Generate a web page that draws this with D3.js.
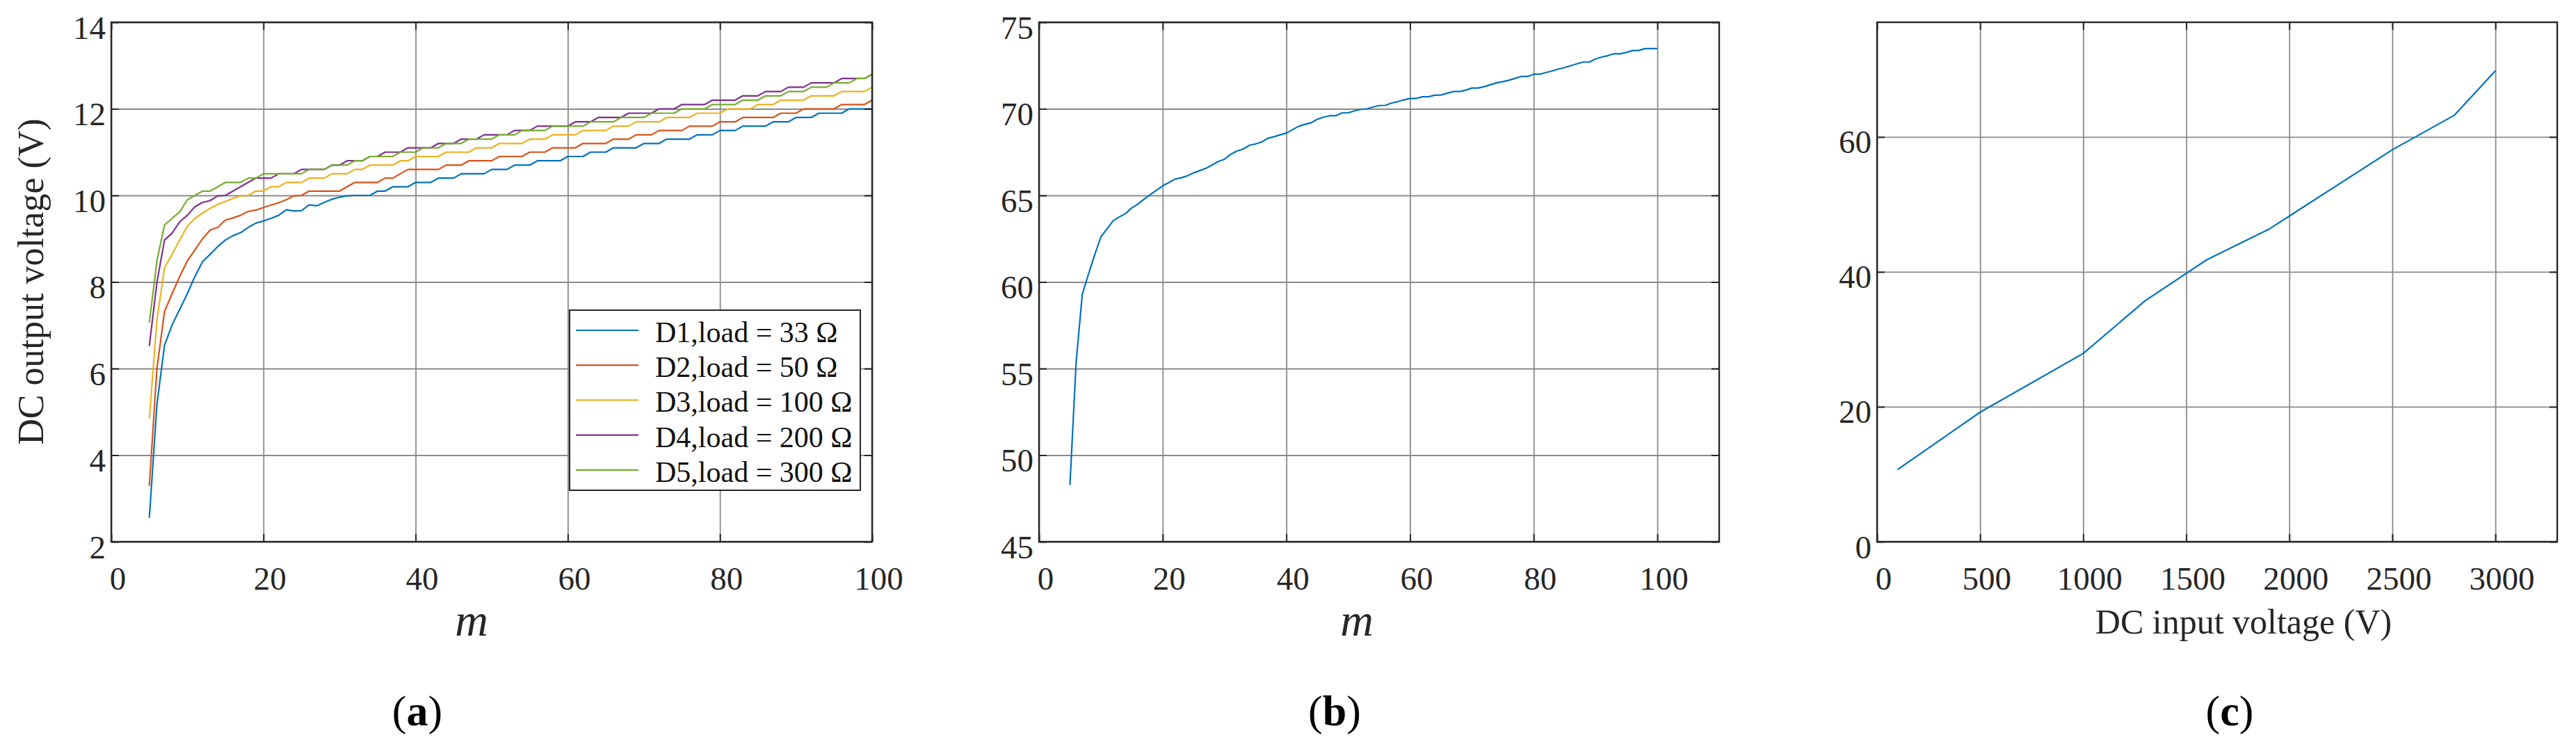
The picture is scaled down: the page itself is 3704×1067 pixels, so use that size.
<!DOCTYPE html>
<html><head><meta charset="utf-8">
<script src="https://cdn.jsdelivr.net/npm/d3@7"></script>
<style>body{margin:0;background:#fff}</style>
</head><body>
<svg id="fig" width="3704" height="1067"></svg>
<script>
// ---------------- DATA ----------------
const mValues = [5,6,7,8,9,10,11,12,13,14,15,16,17,18,19,20,21,22,23,24,25,26,27,28,29,30,31,32,33,34,35,36,37,38,39,40,41,42,43,44,45,46,47,48,49,50,51,52,53,54,55,56,57,58,59,60,61,62,63,64,65,66,67,68,69,70,71,72,73,74,75,76,77,78,79,80,81,82,83,84,85,86,87,88,89,90,91,92,93,94,95,96,97,98,99,100];

const seriesNames = ["D1,load = 33 \u03A9","D2,load = 50 \u03A9","D3,load = 100 \u03A9","D4,load = 200 \u03A9","D5,load = 300 \u03A9"];
const seriesColors = ["#0072BD","#D95319","#EDB120","#7E2F8E","#77AC30"];

const d1Values = [2.55,5.17,6.54,7.01,7.37,7.73,8.13,8.47,8.64,8.82,
8.97,9.07,9.14,9.26,9.36,9.41,9.47,9.54,9.67,9.64,
9.65,9.78,9.76,9.84,9.91,9.96,9.99,10.0,10.0,10.0,
10.1,10.1,10.2,10.2,10.2,10.3,10.3,10.3,10.4,10.4,
10.4,10.5,10.5,10.5,10.5,10.6,10.6,10.6,10.7,10.7,
10.7,10.8,10.8,10.8,10.8,10.9,10.9,10.9,11.0,11.0,
11.0,11.1,11.1,11.1,11.1,11.2,11.2,11.2,11.3,11.3,
11.3,11.3,11.4,11.4,11.4,11.5,11.5,11.5,11.6,11.6,
11.6,11.6,11.7,11.7,11.7,11.8,11.8,11.8,11.9,11.9,
11.9,11.9,12.0,12.0,12.0,12.0];

const d2Values = [3.29,6.00,7.32,7.73,8.13,8.49,8.74,9.00,9.20,9.26,
9.43,9.48,9.54,9.63,9.66,9.72,9.78,9.83,9.90,9.99,
10.0,10.1,10.1,10.1,10.1,10.1,10.2,10.3,10.3,10.3,
10.3,10.4,10.4,10.5,10.6,10.6,10.6,10.6,10.6,10.7,
10.7,10.7,10.8,10.8,10.8,10.8,10.9,10.9,10.9,10.9,
11.0,11.0,11.0,11.1,11.1,11.1,11.1,11.2,11.2,11.2,
11.2,11.3,11.3,11.3,11.4,11.4,11.4,11.5,11.5,11.5,
11.5,11.6,11.6,11.6,11.6,11.7,11.7,11.7,11.8,11.8,
11.8,11.8,11.8,11.9,11.9,11.9,12.0,12.0,12.0,12.0,
12.0,12.1,12.1,12.1,12.1,12.2];

const d3Values = [4.84,7.12,8.33,8.64,8.97,9.29,9.47,9.59,9.70,9.79,
9.86,9.93,9.99,10.0,10.1,10.1,10.2,10.2,10.3,10.3,
10.3,10.4,10.4,10.4,10.5,10.5,10.5,10.6,10.6,10.7,
10.7,10.7,10.7,10.8,10.8,10.9,10.9,10.9,10.9,11.0,
11.0,11.0,11.0,11.1,11.1,11.1,11.2,11.2,11.2,11.2,
11.3,11.3,11.3,11.4,11.4,11.4,11.4,11.5,11.5,11.5,
11.5,11.6,11.6,11.6,11.7,11.7,11.7,11.7,11.8,11.8,
11.8,11.8,11.9,11.9,11.9,11.9,12.0,12.0,12.0,12.0,
12.1,12.1,12.1,12.2,12.2,12.2,12.2,12.3,12.3,12.3,
12.3,12.4,12.4,12.4,12.4,12.5];

const d4Values = [6.52,7.99,8.97,9.13,9.39,9.54,9.74,9.84,9.88,9.99,
10.0,10.1,10.2,10.3,10.4,10.4,10.4,10.5,10.5,10.5,
10.6,10.6,10.6,10.6,10.7,10.7,10.8,10.8,10.8,10.9,
10.9,11.0,11.0,11.0,11.1,11.1,11.1,11.1,11.2,11.2,
11.2,11.3,11.3,11.3,11.4,11.4,11.4,11.4,11.5,11.5,
11.5,11.6,11.6,11.6,11.6,11.6,11.7,11.7,11.7,11.8,
11.8,11.8,11.8,11.9,11.9,11.9,11.9,12.0,12.0,12.0,
12.1,12.1,12.1,12.1,12.2,12.2,12.2,12.2,12.3,12.3,
12.3,12.4,12.4,12.4,12.5,12.5,12.5,12.6,12.6,12.6,
12.6,12.7,12.7,12.7,12.7,12.8];

const d5Values = [7.06,8.49,9.32,9.47,9.62,9.90,10.0,10.1,10.1,10.2,
10.3,10.3,10.3,10.4,10.4,10.5,10.5,10.5,10.5,10.5,
10.5,10.6,10.6,10.6,10.7,10.7,10.7,10.8,10.8,10.9,
10.9,10.9,10.9,11.0,11.0,11.0,11.1,11.1,11.1,11.2,
11.2,11.2,11.3,11.3,11.3,11.3,11.4,11.4,11.4,11.5,
11.5,11.5,11.5,11.6,11.6,11.6,11.6,11.6,11.7,11.7,
11.7,11.7,11.8,11.8,11.8,11.8,11.9,11.9,11.9,11.9,
12.0,12.0,12.0,12.0,12.1,12.1,12.1,12.1,12.2,12.2,
12.2,12.3,12.3,12.3,12.4,12.4,12.4,12.5,12.5,12.5,
12.6,12.6,12.6,12.7,12.7,12.8];

const outputBValues = [48.28,55.36,59.30,60.45,61.56,62.60,63.07,63.54,63.76,63.95,
64.28,64.50,64.78,65.05,65.30,65.55,65.74,65.94,66.02,66.13,
66.30,66.43,66.57,66.76,66.96,67.09,67.37,67.56,67.67,67.89,
67.97,68.08,68.30,68.39,68.50,68.60,68.80,68.99,69.10,69.19,
69.40,69.52,69.60,69.60,69.77,69.77,69.88,69.97,70.00,70.10,
70.19,70.20,70.33,70.41,70.52,70.60,70.60,70.70,70.70,70.79,
70.80,70.90,71.00,71.00,71.08,71.20,71.20,71.28,71.39,71.50,
71.57,71.65,71.76,71.87,71.87,72.00,72.00,72.10,72.19,72.30,
72.38,72.49,72.60,72.70,72.70,72.88,72.99,73.07,73.18,73.18,
73.26,73.37,73.37,73.48,73.48,73.48];

const inputVoltageC = [100,500,1000,1300,1600,1900,2500,2800,3000];
const outputCValues = [10.7,19.2,27.9,35.7,41.8,46.3,58.1,63.2,69.8];

const ticksAX = [0,20,40,60,80,100];
const ticksAY = [2,4,6,8,10,12,14];
const ticksBX = [0,20,40,60,80,100];
const ticksBY = [45,50,55,60,65,70,75];
const ticksCX = [0,500,1000,1500,2000,2500,3000];
const ticksCY = [0,20,40,60];

// ---------------- DRAWING ----------------
const FONT = "'Liberation Serif','Times New Roman',serif";
const TXT = "#262626";
const svg = d3.select("#fig");
svg.append("rect").attr("width",3704).attr("height",1067).attr("fill","#fff");
const fmt = d3.format("d");

function panel(o){
  const g = svg.append("g");
  const x = d3.scaleLinear().domain(o.xDomain).range([o.x0,o.x1]);
  const y = d3.scaleLinear().domain(o.yDomain).range([o.y1,o.y0]);
  const H = o.y1-o.y0, W = o.x1-o.x0;
  // grid
  const gx = g.append("g").attr("transform",`translate(0,${o.y1})`)
    .call(d3.axisBottom(x).tickValues(o.xTicks).tickSize(-H).tickFormat(""));
  const gy = g.append("g").attr("transform",`translate(${o.x0},0)`)
    .call(d3.axisLeft(y).tickValues(o.yTicks).tickSize(-W).tickFormat(""));
  [gx,gy].forEach(s=>{s.select(".domain").remove();
    s.selectAll("line").attr("stroke","#8a8a8a").attr("stroke-width",1.8);});
  // data lines
  o.series.forEach(s=>{
    const line = d3.line().x((d,i)=>x(s.xs[i])).y(d=>y(d));
    g.append("path").datum(s.ys).attr("d",line).attr("fill","none")
      .attr("stroke",s.color).attr("stroke-width",2.2).attr("stroke-linejoin","round");
  });
  // box
  g.append("rect").attr("x",o.x0).attr("y",o.y0).attr("width",W).attr("height",H)
    .attr("fill","none").attr("stroke",TXT).attr("stroke-width",2.4);
  // ticks
  const b = g.append("g").attr("transform",`translate(0,${o.y1})`)
    .call(d3.axisBottom(x).tickValues(o.xTicks).tickSize(-11).tickPadding(0).tickFormat(fmt));
  b.selectAll("text").attr("y",69).attr("dy",0).attr("dx",9)
    .attr("font-size",47).attr("font-family",FONT).attr("fill",TXT);
  const t = g.append("g").attr("transform",`translate(0,${o.y0})`)
    .call(d3.axisTop(x).tickValues(o.xTicks).tickSize(-11).tickFormat(""));
  const l = g.append("g").attr("transform",`translate(${o.x0},0)`)
    .call(d3.axisLeft(y).tickValues(o.yTicks).tickSize(-11).tickPadding(0).tickFormat(fmt));
  l.selectAll("text").attr("x",-8).attr("y",23).attr("dy",0)
    .attr("font-size",47).attr("font-family",FONT).attr("fill",TXT);
  const r = g.append("g").attr("transform",`translate(${o.x1},0)`)
    .call(d3.axisRight(y).tickValues(o.yTicks).tickSize(-11).tickFormat(""));
  [b,t,l,r].forEach(s=>{s.select(".domain").remove();
    s.selectAll("line").attr("stroke",TXT).attr("stroke-width",2);});
  return {g,x,y};
}

// Panel (a)
const pa = panel({x0:160,x1:1254,y0:32,y1:779,xDomain:[0,100],yDomain:[2,14],
  xTicks:ticksAX,yTicks:ticksAY,
  series:[d1Values,d2Values,d3Values,d4Values,d5Values].map((v,i)=>({xs:mValues,ys:v,color:seriesColors[i]}))});
// Panel (b)
const pb = panel({x0:1494,x1:2472,y0:32,y1:779,xDomain:[0,110],yDomain:[45,75],
  xTicks:ticksBX,yTicks:ticksBY,
  series:[{xs:mValues,ys:outputBValues,color:seriesColors[0]}]});
// Panel (c)
const pc = panel({x0:2699,x1:3677,y0:32,y1:779,xDomain:[0,3300],yDomain:[0,77],
  xTicks:ticksCX,yTicks:ticksCY,
  series:[{xs:inputVoltageC,ys:outputCValues,color:seriesColors[0]}]});

// Legend (a)
const leg = svg.append("g");
leg.append("rect").attr("x",819).attr("y",446).attr("width",418).attr("height",259)
  .attr("fill","#fff").attr("stroke",TXT).attr("stroke-width",2);
seriesNames.forEach((n,i)=>{
  const yy = 475 + i*50.2;
  leg.append("line").attr("x1",828).attr("x2",918).attr("y1",yy).attr("y2",yy)
    .attr("stroke",seriesColors[i]).attr("stroke-width",2.2);
  leg.append("text").attr("x",942).attr("y",yy+17).text(n)
    .attr("font-size",42).attr("font-family",FONT).attr("fill","#111");
});

// Axis labels
svg.append("text").attr("transform","translate(62,405) rotate(-90)")
  .attr("text-anchor","middle").attr("font-size",52).attr("font-family",FONT).attr("fill",TXT)
  .text("DC output voltage (V)");
svg.append("text").attr("x",678).attr("y",914).attr("text-anchor","middle")
  .attr("font-size",66).attr("font-style","italic").attr("font-family",FONT).attr("fill",TXT).text("m");
svg.append("text").attr("x",1951).attr("y",914).attr("text-anchor","middle")
  .attr("font-size",66).attr("font-style","italic").attr("font-family",FONT).attr("fill",TXT).text("m");
svg.append("text").attr("x",3226).attr("y",911).attr("text-anchor","middle")
  .attr("font-size",50).attr("font-family",FONT).attr("fill",TXT).text("DC input voltage (V)");

// Sub-figure captions
[["a",600],["b",1919],["c",3206]].forEach(([c,cx])=>{
  const tx = svg.append("text").attr("x",cx).attr("y",1043).attr("text-anchor","middle")
    .attr("font-size",62).attr("font-family",FONT).attr("fill","#000");
  tx.append("tspan").text("(");
  tx.append("tspan").attr("font-weight","bold").text(c);
  tx.append("tspan").text(")");
});
</script>
</body></html>
